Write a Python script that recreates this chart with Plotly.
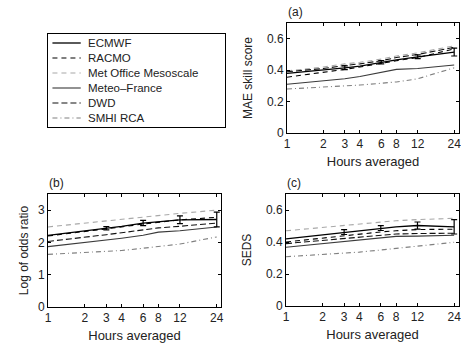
import plotly.graph_objects as go

W, H = 461, 345

hours = [1, 2, 3, 4, 6, 8, 12, 24]
err_hours = [3, 6, 12, 24]
tick_vals = [1, 2, 3, 4, 6, 8, 12, 24]
tick_text = ["1", "2", "3", "4", "6", "8", "12", "24"]

models = ["ECMWF", "RACMO", "Met Office Mesoscale", "Meteo\u2013France", "DWD", "SMHI RCA"]

# Panel (a): MAE skill score
mae_ecmwf = [0.38, 0.40, 0.415, 0.425, 0.45, 0.465, 0.485, 0.515]
mae_racmo = [0.355, 0.385, 0.405, 0.42, 0.445, 0.46, 0.48, 0.535]
mae_metoffice = [0.395, 0.42, 0.44, 0.45, 0.47, 0.49, 0.51, 0.555]
mae_meteofrance = [0.31, 0.33, 0.345, 0.36, 0.385, 0.405, 0.41, 0.433]
mae_dwd = [0.39, 0.41, 0.43, 0.44, 0.46, 0.48, 0.50, 0.545]
mae_smhi = [0.28, 0.29, 0.30, 0.305, 0.315, 0.325, 0.345, 0.415]
mae_err = [0.012, 0.01, 0.012, 0.025]
mae_err_center = [0.415, 0.45, 0.485, 0.515]

# Panel (b): Log of odds ratio
lor_ecmwf = [2.22, 2.35, 2.44, 2.50, 2.60, 2.65, 2.70, 2.71]
lor_racmo = [2.20, 2.33, 2.42, 2.48, 2.57, 2.63, 2.70, 2.78]
lor_metoffice = [2.48, 2.60, 2.68, 2.73, 2.80, 2.85, 2.90, 3.00]
lor_meteofrance = [1.87, 1.99, 2.07, 2.13, 2.22, 2.32, 2.36, 2.48]
lor_dwd = [2.03, 2.15, 2.24, 2.30, 2.40, 2.45, 2.50, 2.60]
lor_smhi = [1.63, 1.68, 1.72, 1.75, 1.82, 1.87, 1.95, 2.17]
lor_err = [0.05, 0.08, 0.12, 0.23]
lor_err_center = [2.44, 2.60, 2.70, 2.71]

# Panel (c): SEDS
seds_ecmwf = [0.42, 0.445, 0.462, 0.472, 0.487, 0.495, 0.503, 0.495]
seds_racmo = [0.40, 0.425, 0.44, 0.45, 0.463, 0.47, 0.478, 0.48]
seds_metoffice = [0.47, 0.49, 0.505, 0.513, 0.525, 0.533, 0.54, 0.548]
seds_meteofrance = [0.367, 0.39, 0.405, 0.415, 0.425, 0.435, 0.437, 0.442]
seds_dwd = [0.39, 0.41, 0.425, 0.432, 0.445, 0.45, 0.453, 0.455]
seds_smhi = [0.308, 0.322, 0.33, 0.337, 0.35, 0.36, 0.372, 0.398]
seds_err = [0.015, 0.015, 0.022, 0.045]
seds_err_center = [0.462, 0.487, 0.503, 0.495]

styles = [
    dict(color="#000000", width=1.3, dash="solid"),
    dict(color="#000000", width=1.1, dash="5px,4px"),
    dict(color="#a8a8a8", width=1.1, dash="5px,4px"),
    dict(color="#3a3a3a", width=1.1, dash="solid"),
    dict(color="#111111", width=1.1, dash="6px,3px"),
    dict(color="#808080", width=1.1, dash="5px,3px,1px,3px"),
]

panels = [
    dict(ax="", series=[mae_ecmwf, mae_racmo, mae_metoffice, mae_meteofrance, mae_dwd, mae_smhi],
         err=mae_err, errc=mae_err_center, yr=[0, 0.7], yt=[0, 0.2, 0.4, 0.6],
         ytt=["0", "0.2", "0.4", "0.6"], title="MAE skill score", label="(a)",
         xd=[287, 459], yd=[23, 133], xr=[0, 1.42], ystand=11, yam=True),
    dict(ax="2", series=[lor_ecmwf, lor_racmo, lor_metoffice, lor_meteofrance, lor_dwd, lor_smhi],
         err=lor_err, errc=lor_err_center, yr=[0, 3.5], yt=[0, 1, 2, 3],
         ytt=["0", "1", "2", "3"], title="Log of odds ratio", label="(b)",
         xd=[48, 221], yd=[194, 307], xr=[0, 1.415], ystand=6, yam=False),
    dict(ax="3", series=[seds_ecmwf, seds_racmo, seds_metoffice, seds_meteofrance, seds_dwd, seds_smhi],
         err=seds_err, errc=seds_err_center, yr=[0, 0.7], yt=[0, 0.2, 0.4, 0.6],
         ytt=["0", "0.2", "0.4", "0.6"], title="SEDS", label="(c)",
         xd=[286, 459], yd=[194, 306], xr=[0, 1.42], ystand=11, yam=True),
]

fig = go.Figure()
font_family = "Liberation Sans, Arial, sans-serif"
txt_color = "#222222"

for pi, p in enumerate(panels):
    xa = "x" + p["ax"]
    ya = "y" + p["ax"]
    for si, (name, vals) in enumerate(zip(models, p["series"])):
        fig.add_trace(go.Scatter(
            x=hours, y=vals, mode="lines", name=name, line=styles[si],
            xaxis=xa, yaxis=ya, showlegend=False, hoverinfo="skip"))
    fig.add_trace(go.Scatter(
        x=err_hours, y=p["errc"], mode="markers",
        marker=dict(size=2, color="rgba(0,0,0,0)"),
        error_y=dict(type="data", array=p["err"], visible=True, color="#000000",
                     thickness=1.2, width=3),
        xaxis=xa, yaxis=ya, showlegend=False, hoverinfo="skip"))

    axis_common = dict(showline=True, linecolor="#000000", linewidth=1, mirror="ticks",
                       ticks="inside", ticklen=3, tickcolor="#000000", showgrid=False,
                       zeroline=False,
                       tickfont=dict(size=12, color=txt_color, family=font_family))
    xkey = "xaxis" + p["ax"]
    ykey = "yaxis" + p["ax"]
    fig.update_layout(**{
        xkey: dict(type="log", range=p["xr"], tickvals=tick_vals, ticktext=tick_text,
                   domain=[p["xd"][0] / W, p["xd"][1] / W], anchor=ya, automargin=False,
                   ticklabelstandoff=0, ticklabeloverflow="allow",
                   title=dict(text="Hours averaged", font=dict(size=13, color=txt_color, family=font_family),
                              standoff=6),
                   **axis_common),
        ykey: dict(range=p["yr"], tickvals=p["yt"], ticktext=p["ytt"],
                   domain=[1 - p["yd"][1] / H, 1 - p["yd"][0] / H], anchor=xa,
                   automargin=p["yam"],
                   title=dict(text=p["title"], font=dict(size=12, color=txt_color, family=font_family),
                              standoff=p["ystand"]),
                   **axis_common),
    })
    fig.add_annotation(text=p["label"], xref="paper", yref="paper",
                       x=(p["xd"][0] - 1) / W, y=1 - (p["yd"][0] - 2) / H,
                       xanchor="left", yanchor="bottom", showarrow=False,
                       font=dict(size=12, color=txt_color, family=font_family))

# Legend box drawn in its own hidden axes (top-left slot)
leg_x = [0.025, 0.185]
fig.update_layout(
    xaxis4=dict(domain=[48 / W, 225 / W], range=[0, 1], anchor="y4", showline=True, mirror=True,
                linecolor="#000000", linewidth=1, showticklabels=False, ticks="",
                showgrid=False, zeroline=False, fixedrange=True, automargin=False),
    yaxis4=dict(domain=[1 - 127 / H, 1 - 34 / H], range=[5.6, -0.6], anchor="x4", showline=True,
                mirror=True, linecolor="#000000", linewidth=1, showticklabels=False, ticks="",
                showgrid=False, zeroline=False, fixedrange=True, automargin=False),
)
for si, name in enumerate(models):
    fig.add_trace(go.Scatter(x=leg_x, y=[si, si], mode="lines", line=styles[si],
                             xaxis="x4", yaxis="y4", showlegend=False, hoverinfo="skip"))
    fig.add_annotation(text=name, xref="x4", yref="y4", x=0.215, y=si, xanchor="left",
                       yanchor="middle", showarrow=False,
                       font=dict(size=11.5, color=txt_color, family=font_family))

fig.update_layout(
    width=W, height=H, margin=dict(l=0, r=0, t=0, b=0, autoexpand=False),
    paper_bgcolor="white", plot_bgcolor="white",
    showlegend=False,
    font=dict(family=font_family, color=txt_color),
)

fig.write_html("out.html", config={"displayModeBar": False, "staticPlot": True},
               post_script="document.body.style.margin='0';document.body.style.padding='0';document.body.style.overflow='hidden';")
